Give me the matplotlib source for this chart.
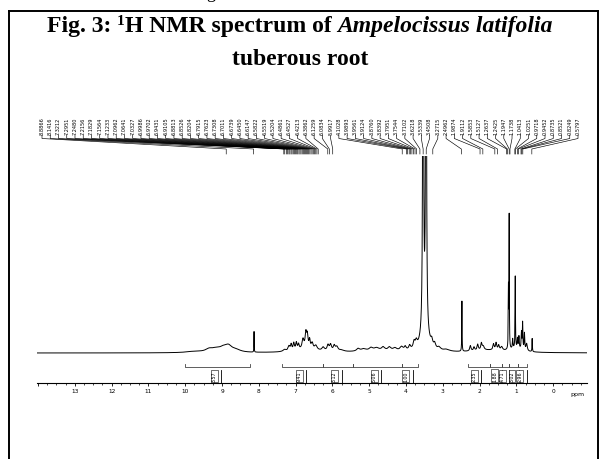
import numpy as np
import matplotlib
matplotlib.use("Agg")
import matplotlib.pyplot as plt
from matplotlib.lines import Line2D
from matplotlib.ticker import MultipleLocator, FixedLocator

# ---------------- data ----------------
# spectrum peaks: chemical shift (ppm), height (relative), half width (ppm)
peak_ppm = [9.75, 9.35, 9.15, 8.97, 8.83, 8.62, 8.13,
            7.30, 7.18, 7.12, 7.05, 6.98, 6.92, 6.80, 6.72, 6.68, 6.62, 6.55, 6.45,
            6.25, 6.12, 6.05, 5.95, 5.88, 5.75, 6.70,
            5.30, 5.15, 4.95, 4.80, 4.62, 4.45, 4.30, 4.12, 4.70,
            4.02, 3.90, 3.78, 3.72,
            3.535, 3.455, 3.49,
            3.30, 3.22, 3.10, 2.90,
            2.48,
            2.25, 2.15, 2.05, 1.95, 1.90,
            1.62, 1.55, 1.48, 1.40,
            1.215, 1.195, 1.10, 1.03, 0.97, 0.93, 0.86, 0.83, 0.78, 0.72, 0.57,
            1.00, 1.80]
peak_height = [0.5, 1.2, 1.4, 1.2, 2.6, 0.9, 8.6,
               0.8, 2.0, 2.5, 3.0, 3.0, 2.2, 4.0, 6.5, 5.0, 3.5, 2.5, 1.8,
               1.5, 2.4, 2.6, 2.2, 1.8, 0.6, 1.3,
               1.1, 0.9, 1.2, 1.1, 1.4, 1.4, 1.1, 1.6, 0.7,
               1.5, 1.8, 2.8, 2.5,
               300, 300, 10,
               2.5, 2.0, 1.2, 0.8,
               21,
               2.2, 1.5, 2.5, 2.8, 1.5,
               2.5, 3.0, 2.0, 1.5,
               25, 55, 4, 30, 4, 5, 7, 11, 7, 3, 5.5,
               1.5, 1.0]
peak_hw = [0.25, 0.12, 0.15, 0.10, 0.12, 0.15, 0.004,
           0.05, 0.03, 0.02, 0.02, 0.02, 0.02, 0.03, 0.025, 0.02, 0.02, 0.03, 0.04,
           0.04, 0.03, 0.03, 0.03, 0.04, 0.08, 0.40,
           0.05, 0.08, 0.06, 0.08, 0.05, 0.05, 0.06, 0.05, 0.70,
           0.03, 0.03, 0.03, 0.03,
           0.0095, 0.0095, 0.10,
           0.03, 0.03, 0.05, 0.10,
           0.005,
           0.02, 0.02, 0.02, 0.02, 0.03,
           0.02, 0.02, 0.02, 0.03,
           0.006, 0.005, 0.01, 0.006, 0.01, 0.01, 0.01, 0.008, 0.01, 0.02, 0.006,
           0.20, 0.50]

# peak-picking labels (ppm)
label_ppm = [8.8866, 8.1416,
             7.3212, 7.2951, 7.2480, 7.2156, 7.1829, 7.1564, 7.1233, 7.0962, 7.0641,
             7.0327, 6.9986, 6.9702, 6.9431, 6.9105, 6.8813, 6.8526, 6.8204, 6.7915,
             6.7623, 6.7308, 6.7011, 6.6739, 6.6450, 6.6147, 6.5822, 6.5519, 6.5204,
             6.4861, 6.4527, 6.4213, 6.3862, 6.1259, 6.0834, 5.9917,
             4.1028, 3.9893, 3.9561, 3.9124, 3.8760, 3.8392, 3.7951, 3.7544, 3.7102,
             3.6218, 3.5339, 3.4508, 3.2715, 2.4962,
             1.9874, 1.9112, 1.5853, 1.5127, 1.2637, 1.2425, 1.1947, 1.1738, 1.0413,
             1.0251, 0.9718, 0.9452, 0.8735, 0.8521, 0.8249, 0.5797]

# integration regions (ppm) and values
integ_start = [10.00, 7.37, 6.26, 5.44, 4.10, 2.31, 1.71, 1.40, 1.20, 0.95]
integ_end = [8.24, 6.26, 5.44, 4.10, 3.67, 1.71, 1.40, 1.20, 0.95, 0.70]
integ_mark = [9.14, 6.83, 5.87, 4.79, 3.94, 2.07, 1.52, 1.31, 1.05, 0.84]
integ_value = ["3.57", "9.41", "3.12", "5.06", "1.00", "2.35", "1.88", "4.71", "3.02", "2.96"]

tick_ppm = list(range(0, 15))
tick_labels = [str(v) for v in range(0, 14)] + [""]

title_parts = ["Fig. 3: ", "1", "H NMR spectrum of ", "Ampelocissus latifolia"]
title_line2 = "tuberous root"

# ---------------- figure ----------------
W, H = 600, 460
fig = plt.figure(figsize=(6, 4.6), dpi=100)
fig.patch.set_facecolor("white")


def fx(px):
    return px / W


def fy(py):
    return 1 - py / H


# frame of the figure box
for xs, ys in [([9, 9], [11.5, 462]), ([597.5, 597.5], [11.5, 462]), ([9, 597.5], [11.5, 11.5])]:
    fig.add_artist(Line2D([fx(v) for v in xs], [fy(v) for v in ys], color="black", lw=1.4))

# descender of a character from the line above
fig.text(fx(206), fy(-2.5), "g", fontsize=13, family="Liberation Serif", va="baseline", ha="left")

# title, laid out piece by piece
renderer = fig.canvas.get_renderer()
styles = [dict(fontsize=17, weight="bold", style="normal", dy=0),
          dict(fontsize=11, weight="bold", style="normal", dy=-7),
          dict(fontsize=17, weight="bold", style="normal", dy=0),
          dict(fontsize=17, weight="bold", style="italic", dy=0)]
objs = []
for txt, st in zip(title_parts, styles):
    t = fig.text(0, fy(32 + st["dy"]), txt, fontsize=st["fontsize"], weight=st["weight"],
                 style=st["style"], family="Liberation Serif", va="baseline", ha="left")
    objs.append(t)
widths = []
for t in objs:
    txt = t.get_text()
    t.set_text(txt.replace(" ", "\u00a0"))
    widths.append(t.get_window_extent(renderer).width)
total = sum(widths)
x0 = 300 - total / 2
for t, w in zip(objs, widths):
    t.set_x(fx(x0))
    x0 += w
fig.text(0.5, fy(65), title_line2, ha="center", va="baseline", fontsize=17,
         family="Liberation Serif", weight="bold")

# spectrum axes
x_left, x_right = 14.03, -0.92
ax = fig.add_axes([fx(37), fy(384), fx(587) - fx(37), fy(157) - fy(384)])
ax.set_xlim(x_left, x_right)
ax.set_ylim(-12.55, 82.4)

ppm = np.linspace(x_right, x_left, 60000)
spec = np.zeros_like(ppm)
for p, h, w in zip(peak_ppm, peak_height, peak_hw):
    spec += h / (1 + ((ppm - p) / w) ** 2)
ax.plot(ppm, spec, color="black", lw=0.7)

for s in ["top", "left", "right"]:
    ax.spines[s].set_visible(False)
ax.spines["bottom"].set_linewidth(0.8)
ax.set_yticks([])
ax.xaxis.set_major_locator(FixedLocator(tick_ppm))
ax.set_xticklabels(tick_labels)
ax.xaxis.set_minor_locator(MultipleLocator(0.25))
ax.tick_params(axis="x", which="major", direction="out", length=2.5, width=0.6,
               labelsize=4.2, pad=1)
ax.tick_params(axis="x", which="minor", direction="out", length=1.5, width=0.5)
ax.set_facecolor("none")
ax.text(-0.65, -0.035, "ppm", transform=ax.get_xaxis_transform(), fontsize=4.5,
        ha="center", va="top")

# integration brackets
y_br = -5.9
y_end = -4.6
for a, b, m, v in zip(integ_start, integ_end, integ_mark, integ_value):
    ax.plot([a, a, b, b], [y_end, y_br, y_br, y_end], color="#444444", lw=0.6)
    ax.text(m + 0.07, -9.5, v, rotation=90, fontsize=3.4, ha="center", va="center",
            bbox=dict(boxstyle="square,pad=0.2", fc="white", ec="black", lw=0.4))
    ax.plot([m - 0.12, m - 0.12], [-7.3, -12.55], color="black", lw=0.6)

# peak labels with connecting lines
fig.canvas.draw()
inv = fig.transFigure.inverted()
n = len(label_ppm)
lab_x = np.linspace(42, 578, n)
for lx, p in zip(lab_x, label_ppm):
    disp = ax.transData.transform((p, 0))
    px_fig = inv.transform(disp)[0]
    fig.text(fx(lx), fy(126.5), f"{p:.4f}", rotation=90, fontsize=3.6,
             ha="center", va="center", family="DejaVu Sans")
    fig.add_artist(Line2D([fx(lx), fx(lx), px_fig, px_fig],
                          [fy(136), fy(139.5), fy(150), fy(155)],
                          color="black", lw=0.45))

fig.savefig("out.png", dpi=100, facecolor="white")
